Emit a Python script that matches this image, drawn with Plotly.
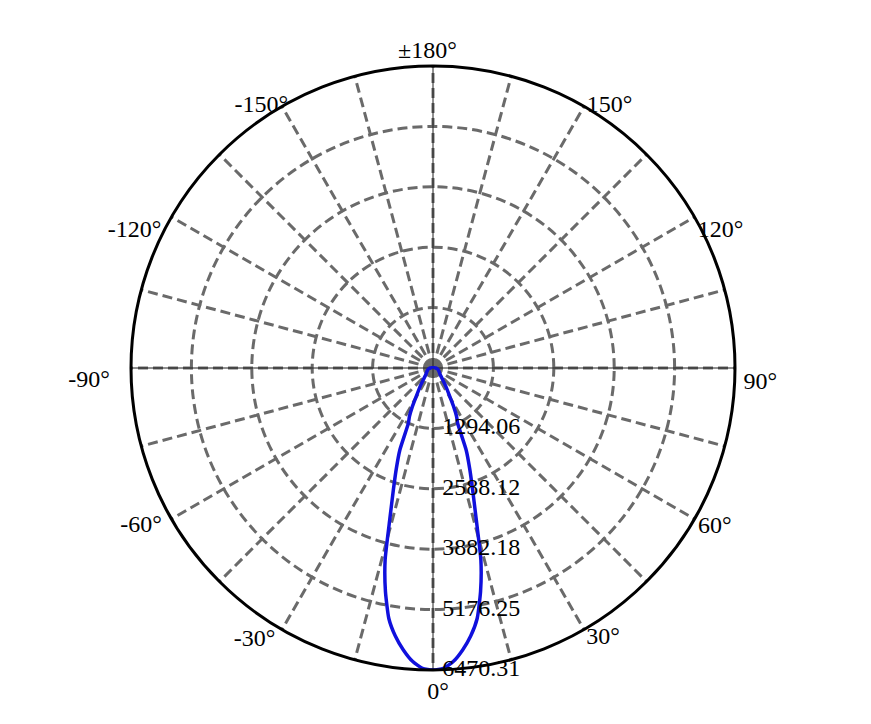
import plotly.graph_objects as go

# Luminous intensity distribution (symmetric about 0°)
half_angles = [0, 2, 4, 6, 8, 10, 12, 14, 16, 18, 20, 22, 24, 26, 28, 30, 35, 40, 45, 50, 60, 70, 80, 90, 100, 120, 150, 180]
half_values = [6470.31, 6440, 6300, 6075, 5800, 5450, 4900, 4240, 3350, 2750, 2300, 1900, 1300, 1150, 950, 750, 480, 320, 230, 190, 150, 120, 90, 60, 30, 10, 5, 0]

radial_ticks = [1294.06, 2588.12, 3882.18, 5176.25, 6470.31]
radial_labels = ["1294.06", "2588.12", "3882.18", "5176.25", "6470.31"]

grid_angles = list(range(0, 360, 15))
label_texts = ["0°", "30°", "60°", "90°", "120°", "150°", "±180°", "-150°", "-120°", "-90°", "-60°", "-30°"]

axis_cross_angles = [0, 180, None, 90, 270]

# full curve: 0..180 then 180..360 mirrored
theta = half_angles + [360 - a for a in reversed(half_angles)]
r = half_values + list(reversed(half_values))

rmax = radial_ticks[-1]
FONT = "Liberation Serif, Times New Roman, serif"
FS = 24

# where each angle label sits (style): polar angle and distance relative to the frame radius
label_place_theta = [0.9, 32.2, 60.6, 87.4, 115.5, 146.0, 181.0, 213.3, 245.4, 272.2, 298.5, 326.7]
label_place_dist = [1.075, 1.057, 1.071, 1.085, 1.055, 1.046, 1.045, 1.036, 1.087, 1.140, 1.100, 1.076]

fig = go.Figure()
# thin black axis cross
fig.add_trace(go.Scatterpolar(
    r=[rmax if a is not None else None for a in axis_cross_angles],
    theta=axis_cross_angles, mode="lines",
    line=dict(color="#222222", width=1), connectgaps=False,
    showlegend=False, hoverinfo="skip", subplot="polar",
))
fig.add_trace(go.Scatterpolar(
    r=r, theta=theta, mode="lines",
    line=dict(color="#1010dd", width=3.5, shape="spline", smoothing=0.5),
    showlegend=False, hoverinfo="skip", subplot="polar",
))
# radial tick labels along the 0° direction
fig.add_trace(go.Scatterpolar(
    r=radial_ticks, theta=[0] * len(radial_ticks), mode="markers+text",
    text=radial_labels, textposition="middle right",
    marker=dict(size=13, opacity=0),
    textfont=dict(family=FONT, size=FS, color="black"),
    cliponaxis=False, showlegend=False, hoverinfo="skip", subplot="polar",
))

OUTER = 1.15  # label layer extends a bit past the frame
# angular labels on an invisible, slightly larger concentric polar layer
fig.add_trace(go.Scatterpolar(
    r=[rmax * d for d in label_place_dist], theta=label_place_theta, mode="text",
    text=label_texts, textposition="middle center",
    textfont=dict(family=FONT, size=FS, color="black"),
    cliponaxis=False, showlegend=False, hoverinfo="skip", subplot="polar2",
))

W, H = 855, 708
off = 8  # page body margin
cx, cy, R = 433 - off, 368 - off, 302
R2 = R * OUTER


def dom(rad):
    return dict(x=[(cx - rad) / W, (cx + rad) / W], y=[1 - (cy + rad) / H, 1 - (cy - rad) / H])


fig.update_layout(
    width=W, height=H,
    margin=dict(l=0, r=0, t=0, b=0),
    paper_bgcolor="white",
    plot_bgcolor="white",
    font=dict(family=FONT, size=FS, color="black"),
    polar=dict(
        domain=dom(R),
        bgcolor="white",
        angularaxis=dict(
            rotation=-90, direction="counterclockwise",
            tickmode="array", tickvals=grid_angles,
            showticklabels=False, ticks="",
            showgrid=True, gridcolor="#6a6a6a", gridwidth=3, griddash="10px,5px",
            showline=True, linecolor="black", linewidth=3,
        ),
        radialaxis=dict(
            range=[0, rmax], angle=-90,
            tickmode="array", tickvals=radial_ticks,
            showticklabels=False, ticks="",
            showgrid=True, gridcolor="#6a6a6a", gridwidth=3, griddash="10px,5px",
            showline=False,
        ),
    ),
    polar2=dict(
        domain=dom(R2),
        bgcolor="rgba(0,0,0,0)",
        angularaxis=dict(rotation=-90, direction="counterclockwise", visible=False),
        radialaxis=dict(range=[0, rmax * OUTER], visible=False),
    ),
)

fig.write_html("out.html")
